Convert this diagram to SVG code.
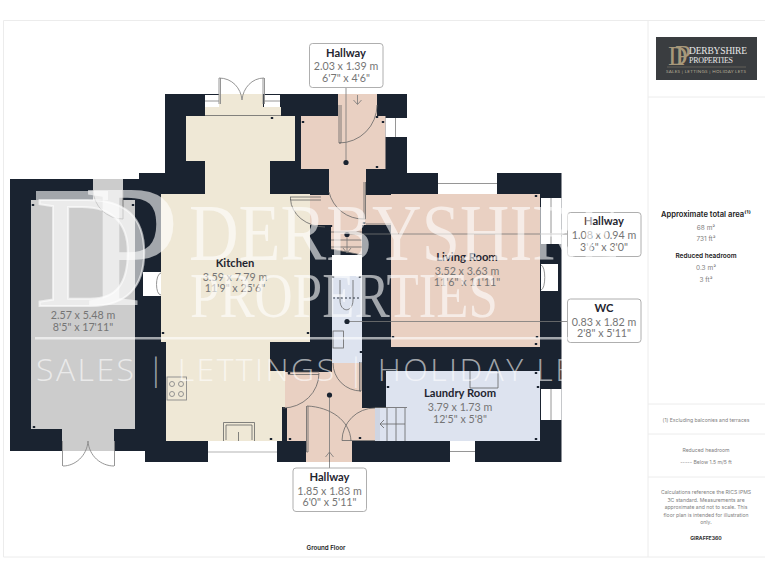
<svg xmlns="http://www.w3.org/2000/svg" width="768" height="576" viewBox="0 0 768 576">
<style>
text{font-family:"Lato","Liberation Sans",sans-serif;text-anchor:middle}
.t{font-size:11.200px;font-weight:700;fill:#1f2530}
.d{font-size:10.700px;fill:#757575}
.w{fill:#1a2330}.cr{fill:#efe8d6}.pk{fill:#e9d0c2}.bl{fill:#dde3ef}.gy{fill:#cccccc}.wh{fill:#fff}
.l{fill:none;stroke:#666;stroke-width:.8}
.f{fill:none;stroke:#8a8a8a;stroke-width:.9}
.box{fill:#fff;stroke:#9a9a9a;stroke-width:.8}
.c{stroke:#777;stroke-width:.8;fill:none}
.dot{fill:#1a2330}
.rule{stroke:#ececec;stroke-width:1;fill:none}
.ph{font-family:"Inter","Liberation Sans",sans-serif;font-size:7.600px;font-weight:600;fill:#222}
.ps{font-family:"Inter","Liberation Sans",sans-serif;font-size:6.500px;fill:#808080}
.pf{font-family:"Inter","Liberation Sans",sans-serif;font-size:5.100px;fill:#808080}
.wm{fill:#fff;fill-opacity:.6}
.wmS{font-family:"Liberation Serif",serif}
</style>
<defs><path id="tk" d="M-1.200,-1h2.400v2h-2.400z" fill="#1a2330"/></defs>
<g id="frame">
<path class="rule" d="M3.500,20.500H765M3.500,20.500V557H765M648,20.500V557M648,97H765M648,404H765M648,434H765M648,477H765"/>
</g>
<g id="walls">
<path class="w" d="M165,94H407V173H561.500V462H145V451H10V179H139V173H165Z"/>
</g>
<g id="garage">
<path class="gy" d="M31,200H93V179H123V200H135V429H114V451H62V429H31Z"/>
<path class="l" d="M123,190V219M93,190A30,30 0 0 0 123,219"/>
<path class="f" d="M62.500,441V466M114.500,441V466M63,466C75,466 87,456 88,441C89,456 101,466 114,466"/>
<text class="d" x="83" y="319">2.57 x 5.48 m</text>
<text class="d" x="83" y="331">8'5" x 17'11"</text>
</g>
<g id="kitchen">
<path class="cr" d="M219,94H263V107H281V116H295V161H270V194H310V342H270V371H285V407H282V441H166V342H161V194H205V161H186V116H205V107H219Z"/>
<rect class="wh" x="205" y="95" width="14" height="12"/><rect class="wh" x="264" y="95" width="16" height="12"/>
<path class="f" d="M205,101H219M264,101H280"/>
<path class="l" d="M205,115.500H281"/>
<path class="f" d="M219,78V104M220.500,78V104M263,78V104M264.500,78V104M219,78C232,78 241,88 242,100C243,88 252,78 264,78"/>
<rect class="wh" x="143" y="272" width="18" height="24"/><path class="f" d="M161,273C155,274 155,295 161,295"/>
<rect class="wh" x="208" y="441" width="69" height="21"/><path d="M208,452H277" stroke="#ccc" stroke-width="1.500"/>
<g class="f"><rect x="167" y="377" width="19.500" height="23"/><circle cx="172" cy="384" r="2.500"/><circle cx="181" cy="384" r="2.500"/><circle cx="172" cy="394" r="2.500"/><circle cx="181" cy="394" r="2.500"/></g>
<path class="l" d="M223.500,441V422.500H254.500V441M226,440V425H252V440M238.500,432V441"/>
<text class="t" x="235" y="267">Kitchen</text>
<text class="d" x="235" y="281">3.59 x 7.79 m</text>
<text class="d" x="235" y="292">11'9" x 25'6"</text>
</g>
<g id="hallway-north">
<path class="pk" d="M338,94H377V116H385.500V169H366V195H391V225H362V255L331,249V225H310V195H329V169H301V116H338Z"/>
<rect class="wh" x="385.500" y="118" width="21.500" height="19"/><path class="f" d="M395.500,118V137"/>
<path class="l" d="M339,105V143H341V105M339,143A38,38 0 0 0 377,105"/>
<path class="c" d="M357.500,95V104M353.500,100L357.500,104.500L361.500,100"/>
<path class="l" d="M364,182V219H365.500V182M329,192A35,35 0 0 0 364,219"/>
<path class="l" d="M290,197H321M290.500,197V200H321M290.500,199A35,29 0 0 0 325,227"/>
<path class="l" d="M391,197C400,199 407,208 407.500,224H366"/>
<path class="l" d="M331,232H362M331,240H362M331,247H362M331,249L362,255"/>
<path class="c" d="M347,234V252M343,248L347,253L351,248"/>
</g>
<g id="living-room">
<path class="pk" d="M391,194H540V347H391Z"/>
<rect class="wh" x="438" y="173" width="59" height="21"/><path class="f" d="M438,183.500H497"/>
<rect class="wh" x="541" y="198" width="20.500" height="46"/><path class="f" d="M551,198V244"/>
<rect class="wh" x="541" y="264" width="17" height="27"/><path class="f" d="M541,265C546,266 546,289 541,290"/>
<text class="t" x="467" y="261">Living Room</text>
<text class="d" x="467" y="275">3.52 x 3.63 m</text>
<text class="d" x="467" y="286">11'6" x 11'11"</text>
</g>
<g id="wc">
<rect class="wh" x="332" y="255" width="30" height="21"/>
<rect class="bl" x="332" y="276" width="30" height="87"/>
<path class="l" d="M340,280V300C340,313 353,313 353,300V280"/>
<path d="M333,298H360" stroke="#1a2330" stroke-width=".9" stroke-dasharray="2 2"/>
<rect class="l" x="333" y="331" width="10.500" height="17"/>
</g>
<g id="hallway-south">
<path class="pk" d="M332,363H362V408H375V441H352V462H306V441H287V408H285V372H332Z"/>
<rect class="w" x="282" y="408" width="5" height="33"/>
<path class="l" d="M361,362V391H359.500V362M333,363A28,28 0 0 0 361,391"/>
<path class="l" d="M288,372H319M288,374.500H319M319,373A36,35 0 0 1 283,408"/>
<path class="l" d="M306.500,406V452H308V406M307,406C330,407 350,420 351,441"/>
<path class="l" d="M342,440.500H375M342,440.500A33,33 0 0 1 375,408"/>
<path class="c" d="M329.500,462V452M325.500,457L329.500,452L333.500,457"/>
</g>
<g id="laundry-room">
<path class="bl" d="M386,371H540V441H375V408H386Z"/>
<rect x="375" y="408" width="5" height="33" fill="#cfd5e2"/>
<path class="l" d="M375,407.500H407M387,408V441M396,408V441M405,408V441M380,424H405M384,420L380,424L384,428"/>
<path class="l" d="M470,371V388H498V371"/>
<rect class="wh" x="541" y="389" width="20.500" height="31"/><path class="f" d="M551,389V420"/>
<rect class="wh" x="450" y="441" width="25" height="21"/><path class="f" d="M450,451.500H475"/>
<text class="t" x="460" y="397">Laundry Room</text>
<text class="d" x="460" y="411">3.79 x 1.73 m</text>
<text class="d" x="460" y="423">12'5" x 5'8"</text>
</g>
<g id="ticks">
<use href="#tk" x="33" y="205"/><use href="#tk" x="133" y="205"/><use href="#tk" x="34" y="427"/><use href="#tk" x="272" y="118"/><use href="#tk" x="303" y="122"/><use href="#tk" x="383" y="122"/><use href="#tk" x="377" y="117"/><use href="#tk" x="377" y="167"/><use href="#tk" x="331" y="226"/><use href="#tk" x="364" y="223"/><use href="#tk" x="536" y="196"/><use href="#tk" x="536" y="344"/><use href="#tk" x="393" y="337"/><use href="#tk" x="537" y="337"/><use href="#tk" x="163" y="333"/><use href="#tk" x="308" y="333"/><use href="#tk" x="333" y="277"/><use href="#tk" x="360" y="277"/><use href="#tk" x="361" y="352"/><use href="#tk" x="289" y="373"/><use href="#tk" x="290" y="439"/><use href="#tk" x="271" y="439"/><use href="#tk" x="360" y="438"/><use href="#tk" x="536" y="373"/><use href="#tk" x="538" y="387"/><use href="#tk" x="536" y="439"/><use href="#tk" x="388" y="387"/>
</g>
<g id="connectors">
<path class="c" d="M346,88V162M347,234H567.500M347,321.500H567.500M329.500,395V468"/>
<circle class="dot" cx="346" cy="162.500" r="2.600"/><circle class="dot" cx="347" cy="234.500" r="2.600"/><circle class="dot" cx="347" cy="321.500" r="2.600"/><circle class="dot" cx="329.500" cy="395" r="2.600"/>
</g>
<g id="label-hallway-n">
<rect class="box" x="309.500" y="43.500" width="73.500" height="44" rx="3"/>
<text class="t" x="346" y="56.500">Hallway</text><text class="d" x="346" y="69.500">2.03 x 1.39 m</text><text class="d" x="346" y="81.500">6'7" x 4'6"</text>
</g>
<g id="label-hallway-e">
<rect class="box" x="567.500" y="212.500" width="73.500" height="44" rx="3"/>
<text class="t" x="604" y="225">Hallway</text><text class="d" x="604" y="238.500">1.08 x 0.94 m</text><text class="d" x="604" y="250.500">3'6" x 3'0"</text>
</g>
<g id="label-wc">
<rect class="box" x="567.500" y="299" width="73.500" height="43.500" rx="3"/>
<text class="t" x="604" y="311.500">WC</text><text class="d" x="604" y="325.500">0.83 x 1.82 m</text><text class="d" x="604" y="337">2'8" x 5'11"</text>
</g>
<g id="label-hallway-s">
<rect class="box" x="293" y="468" width="73.500" height="43.500" rx="3"/>
<text class="t" x="329.500" y="481">Hallway</text><text class="d" x="329.500" y="495">1.85 x 1.83 m</text><text class="d" x="329.500" y="506">6'0" x 5'11"</text>
</g>
<text x="326" y="550" class="ph" style="font-size:6.200px">Ground Floor</text>
<g id="watermark">
<text class="wm wmS" x="35" y="306" font-size="160" stroke="#fff" stroke-opacity=".6" stroke-width="2" style="text-anchor:start">D</text>
<text class="wm wmS" x="83" y="305" font-size="175" style="text-anchor:start">P</text>
<rect class="wm" x="36" y="191" width="72" height="9"/>
<text class="wm wmS" x="189" y="260" font-size="80" textLength="431" lengthAdjust="spacingAndGlyphs" style="text-anchor:start">DERBYSHIRE</text>
<text class="wm wmS" x="190" y="317" font-size="64" textLength="308" lengthAdjust="spacingAndGlyphs" style="text-anchor:start">PROPERTIES</text>
<rect class="wm" x="35" y="337" width="580" height="2.500"/>
<text class="wm" x="36" y="381" font-size="32" font-weight="300" textLength="576" style="text-anchor:start;font-family:'Open Sans',sans-serif">SALES | LETTINGS | HOLIDAY LETS</text>
</g>
<g id="brand">
<rect x="656" y="37" width="101" height="43" fill="#3a3d40"/>
<text class="wmS" x="668" y="65" font-size="27" fill="#a8987a" style="text-anchor:start">D</text>
<text class="wmS" x="675" y="65" font-size="29" fill="#a8987a" style="text-anchor:start">P</text>
<text class="wmS" x="689" y="54" font-size="9.500" fill="#e8e8e8" textLength="58" style="text-anchor:start">DERBYSHIRE</text>
<text class="wmS" x="689" y="63" font-size="8" fill="#e8e8e8" textLength="44" style="text-anchor:start">PROPERTIES</text>
<path d="M667,67H746" stroke="#8d8472" stroke-width=".5"/>
<text x="706" y="72.500" font-size="4.500" fill="#b5ab95" textLength="80">SALES | LETTINGS | HOLIDAY LETS</text>
</g>
<g id="panel">
<text class="ph" x="706" y="217">Approximate total area⁽¹⁾</text>
<text class="ps" x="706" y="230">68 m²</text><text class="ps" x="706" y="241">731 ft²</text>
<text class="ph" x="706" y="258" style="font-size:6.500px">Reduced headroom</text>
<text class="ps" x="706" y="270">0.3 m²</text><text class="ps" x="706" y="282">3 ft²</text>
<text class="pf" x="706" y="422">(1) Excluding balconies and terraces</text>
<text class="pf" x="706" y="452">Reduced headroom</text>
<text class="pf" x="706" y="464">----- Below 1.5 m/5 ft</text>
<text class="pf" x="706" y="494">Calculations reference the RICS IPMS</text>
<text class="pf" x="706" y="501.500">3C standard. Measurements are</text>
<text class="pf" x="706" y="509">approximate and not to scale. This</text>
<text class="pf" x="706" y="516.500">floor plan is intended for illustration</text>
<text class="pf" x="706" y="524">only.</text>
<text class="pf" x="706" y="539.500" style="font-weight:700;fill:#333">GIRAFFE360</text>
</g>
</svg>
